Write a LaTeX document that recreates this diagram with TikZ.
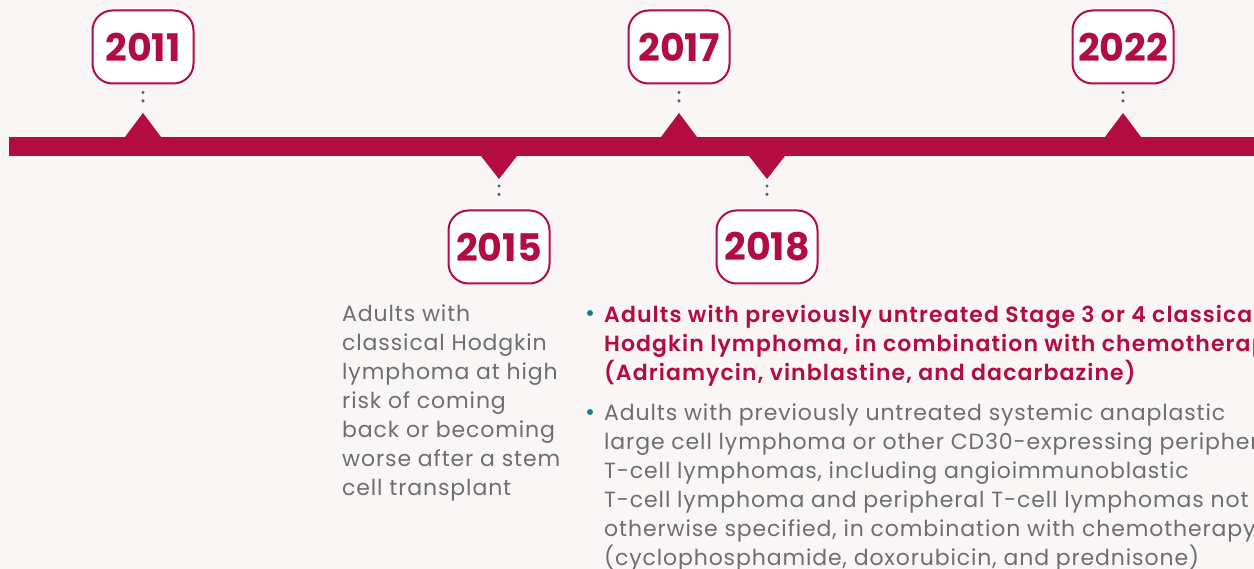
\documentclass[tikz,border=0pt]{standalone}
\usepackage{fontspec}
\setmainfont{Poppins}
\newfontfamily\bodyfont{Poppins}[LetterSpace=4]
\newfontfamily\leadfont{Poppins SemiBold}[LetterSpace=5]
\usepackage{xcolor}
\usepackage{tikz}
\usetikzlibrary{positioning,calc}
\definecolor{crimson}{HTML}{B30C43}
\definecolor{paper}{HTML}{F9F6F5}
\definecolor{txtgray}{HTML}{6D6E70}
\definecolor{dotgray}{HTML}{5A5A5A}
\definecolor{bullteal}{HTML}{1B7A96}

\begin{document}
\begin{tikzpicture}[x=1pt,y=-1pt,
  yearbox/.style={draw=crimson, line width=2pt, fill=white, rounded corners=20pt,
    minimum width=101pt, minimum height=73pt, text=crimson,
    font=\fontsize{38}{38}\selectfont\bfseries},
  leader/.style={dotgray, line width=3.4pt, line cap=round, dash pattern=on 0pt off 8.4pt},
  body/.style={align=left, anchor=north west, inner sep=0pt, font=\bodyfont\fontsize{22}{29}\selectfont},
  boldbody/.style={body, font=\leadfont\fontsize{22}{29}\selectfont},
  bullet/.style={circle, fill=bullteal, inner sep=0pt, minimum size=6pt}]
  % fondo y marco
  \fill[paper] (0,0) rectangle (1254,569);
  \useasboundingbox (0,0) rectangle (1254,569);
  % barra del tiempo
  \fill[crimson] (9,137) rectangle (1270,156);
  % hitos arriba de la barra
  \foreach \x/\yr in {143/2011,679/2017,1123/2022}{
    \fill[crimson] (\x-18,137) -- (\x,113) -- (\x+18,137) -- cycle;
    \coordinate (t\yr) at (\x,113);
    \node[yearbox] (y\yr) at (\x,47) {\yr};
    \draw[leader, shorten <=8pt, shorten >=5pt] (y\yr.south) -- (t\yr);
  }
  % hitos debajo de la barra
  \foreach \x/\yr in {499/2015,767/2018}{
    \fill[crimson] (\x-18,156) -- (\x,179) -- (\x+18,156) -- cycle;
    \coordinate (t\yr) at (\x,179);
    \node[yearbox] (y\yr) at (\x,247) {\yr};
    \draw[leader, shorten <=7pt, shorten >=7pt] (t\yr) -- (y\yr.north);
  }
  % textos
  \node[body, txtgray] (d2015) at (342,305) {Adults with\\classical Hodgkin\\lymphoma at high\\risk of coming\\back or becoming\\worse after a stem\\cell transplant};
  \node[bullet] (b1) at (590,313) {};
  \node[boldbody, crimson] (d2018a) at (604,305) {Adults with previously untreated Stage 3 or 4 classical\\Hodgkin lymphoma, in combination with chemotherapy\\(Adriamycin, vinblastine, and dacarbazine)};
  \node[bullet] (b2) at (590,412) {};
  \node[body, txtgray] (d2018b) at (604,404) {Adults with previously untreated systemic anaplastic\\large cell lymphoma or other CD30-expressing peripheral\\T-cell lymphomas, including angioimmunoblastic\\T-cell lymphoma and peripheral T-cell lymphomas not\\otherwise specified, in combination with chemotherapy\\(cyclophosphamide, doxorubicin, and prednisone)};
\end{tikzpicture}
\end{document}
